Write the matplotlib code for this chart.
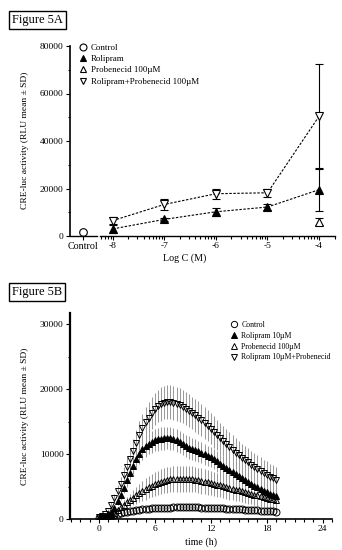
import matplotlib
matplotlib.use("Agg")
import numpy as np
import matplotlib.pyplot as plt
from matplotlib.lines import Line2D
from matplotlib.ticker import MultipleLocator, FixedLocator

plt.rcParams["font.family"] = ["Liberation Serif", "DejaVu Serif"]
plt.rcParams["font.size"] = 6.5

# --- Figure 5A data (dose response) ----------------------------------------
log_c = [-8, -7, -6, -5, -4]
rolipram_a = [3000, 7000, 10200, 12200, 19500]
rolipram_a_sd = [1600, 700, 1700, 1100, 9000]
combo_a = [6500, 13300, 17800, 18200, 50400]
combo_a_sd = [1300, 2200, 2200, 1800, 22000]
probenecid_a_x = [-4]
probenecid_a = [6000]
probenecid_a_sd = [1500]
control_a = [1700]
control_a_sd = [300]

# --- Figure 5B data (time course, reads every 20 min) ----------------------
time_h = [m / 60 for m in range(0, 1141, 20)]

combo_b = [300, 400, 700, 1200, 2100, 3200, 4300, 5400, 6700, 8000,
           9200, 10400, 11700, 13000, 14000, 14900, 15600, 16300, 16900, 17400,
           17700, 17900, 18000, 17950, 17850, 17700, 17500, 17300, 17000, 16650,
           16300, 15950, 15600, 15200, 14800, 14350, 13900, 13400, 12900, 12400,
           11950, 11500, 11050, 10600, 10200, 9800, 9400, 9050, 8700, 8350,
           8000, 7700, 7400, 7100, 6800, 6500, 6250, 6000]
combo_b_sd = [50, 80, 150, 300, 500, 700, 900, 1100, 1300, 1500,
              1700, 1900, 2000, 2100, 2200, 2300, 2400, 2450, 2500, 2500,
              2550, 2550, 2600, 2600, 2600, 2600, 2600, 2600, 2550, 2550,
              2500, 2500, 2500, 2450, 2450, 2400, 2400, 2400, 2350, 2350,
              2300, 2300, 2300, 2250, 2250, 2200, 2200, 2200, 2150, 2150,
              2100, 2100, 2100, 2050, 2050, 2000, 2000, 2000]

rolipram_b = [200, 250, 350, 550, 900, 1700, 2700, 3700, 4800, 6000,
              7100, 8200, 9200, 10000, 10700, 11200, 11600, 11900, 12100, 12250,
              12350, 12400, 12450, 12400, 12300, 12100, 11800, 11500, 11250, 11000,
              10800, 10600, 10400, 10200, 9950, 9700, 9500, 9200, 8850, 8500,
              8150, 7850, 7500, 7200, 6900, 6600, 6300, 6000, 5700, 5450,
              5150, 4900, 4650, 4350, 4100, 3900, 3700, 3500]
rolipram_b_sd = [50, 60, 80, 150, 250, 400, 550, 700, 850, 1000,
                 1150, 1300, 1400, 1500, 1550, 1600, 1650, 1700, 1700, 1750,
                 1750, 1750, 1750, 1750, 1750, 1750, 1700, 1700, 1700, 1700,
                 1650, 1650, 1650, 1600, 1600, 1600, 1550, 1550, 1550, 1500,
                 1500, 1500, 1450, 1450, 1450, 1400, 1400, 1400, 1350, 1350,
                 1300, 1300, 1300, 1250, 1250, 1200, 1200, 1200]

probenecid_b = [200, 250, 300, 450, 700, 1000, 1450, 1800, 2150, 2550,
                2900, 3250, 3650, 4000, 4300, 4650, 4900, 5150, 5400, 5600,
                5750, 5900, 6000, 6100, 6150, 6200, 6200, 6200, 6200, 6150,
                6100, 6050, 5950, 5850, 5750, 5650, 5550, 5450, 5300, 5200,
                5050, 4950, 4800, 4650, 4500, 4400, 4250, 4150, 4000, 3900,
                3750, 3650, 3500, 3400, 3300, 3150, 3050, 2900]
probenecid_b_sd = [50, 60, 80, 120, 200, 300, 420, 550, 700, 850,
                   1000, 1150, 1300, 1450, 1550, 1650, 1700, 1750, 1800, 1850,
                   1900, 1900, 1950, 1950, 2000, 2000, 2000, 2000, 2000, 2000,
                   2000, 1950, 1950, 1950, 1900, 1900, 1900, 1850, 1850, 1850,
                   1800, 1800, 1800, 1750, 1750, 1700, 1700, 1700, 1650, 1650,
                   1650, 1600, 1600, 1550, 1550, 1550, 1500, 1500]

control_b = [150, 200, 280, 400, 520, 650, 780, 900, 1020, 1130,
             1220, 1300, 1380, 1440, 1500, 1550, 1590, 1630, 1660, 1690,
             1710, 1730, 1750, 1760, 1770, 1780, 1780, 1790, 1790, 1790,
             1780, 1780, 1770, 1760, 1750, 1730, 1710, 1690, 1670, 1650,
             1630, 1600, 1580, 1550, 1530, 1500, 1470, 1440, 1410, 1380,
             1350, 1320, 1290, 1260, 1230, 1200, 1170, 1140]
control_b_sd = [40, 50, 60, 80, 100, 120, 140, 160, 180, 200,
                220, 240, 250, 260, 270, 280, 290, 300, 300, 300,
                300, 300, 300, 300, 300, 300, 300, 300, 300, 300,
                300, 300, 300, 300, 300, 300, 300, 300, 300, 300,
                290, 290, 290, 280, 280, 280, 270, 270, 270, 260,
                260, 260, 250, 250, 250, 250, 250, 250]

for arr in (combo_b, combo_b_sd, rolipram_b, rolipram_b_sd, probenecid_b,
            probenecid_b_sd, control_b, control_b_sd):
    assert len(arr) == len(time_h), len(arr)

W, H = 342, 550
fig = plt.figure(figsize=(W / 100, H / 100), dpi=100)


def px_axes(left, top, right, bottom):
    return fig.add_axes([left / W, 1 - bottom / H, (right - left) / W, (bottom - top) / H])


def style_ticks(ax):
    ax.tick_params(which="both", direction="out", width=0.8, labelsize=6.8, pad=1.5)
    ax.tick_params(which="major", length=3)
    ax.tick_params(which="minor", length=1.8)


ylabel = "CRE-luc activity (RLU mean \u00b1 SD)"
box = dict(boxstyle="square,pad=0.25", fc="white", ec="black", lw=1.0)

# --- Figure 5A ---------------------------------------------------------------
fig.text(12 / W, 1 - 20 / H, "Figure 5A", fontsize=9, va="center", ha="left", bbox=box)

ax_ctrl = px_axes(70, 46, 97, 236)
ax_a = px_axes(100, 46, 335, 236)

for ax in (ax_ctrl, ax_a):
    ax.set_ylim(0, 80000)
    for s in ("top", "right"):
        ax.spines[s].set_visible(False)
    ax.spines["bottom"].set_linewidth(1.0)
    ax.patch.set_alpha(0)
    style_ticks(ax)
ax_ctrl.spines["left"].set_linewidth(1.2)
ax_a.spines["left"].set_visible(False)
ax_a.tick_params(axis="y", left=False, labelleft=False)

ax_ctrl.set_xlim(0, 1)
ax_ctrl.set_xticks([0.48])
ax_ctrl.set_xticklabels(["Control"], fontsize=7.2)
ax_ctrl.yaxis.set_major_locator(MultipleLocator(20000))
ax_ctrl.yaxis.set_minor_locator(MultipleLocator(10000))
ax_ctrl.errorbar([0.48], control_a, yerr=control_a_sd, fmt="o", ms=5.5, mfc="white",
                 mec="black", mew=0.8, ecolor="black", elinewidth=0.8, capsize=2, clip_on=False)

ax_a.set_xlim(-8.25, -3.69)
ax_a.set_xticks(log_c)
ax_a.set_xticklabels([str(v) for v in log_c])
minor = [d + np.log10(k) for d in range(-9, -3) for k in range(2, 10)]
ax_a.xaxis.set_minor_locator(FixedLocator([m for m in minor if -8.25 <= m <= -3.69]))
ax_a.set_xlabel("Log C (M)", fontsize=7.2, labelpad=4)
ax_a.xaxis.set_label_coords((185 - 100) / 235, -0.09)

dash = (0, (2.2, 1.4))
ax_a.plot(log_c, combo_a, color="black", lw=0.8, ls=dash)
ax_a.plot(log_c, rolipram_a, color="black", lw=0.8, ls=dash)
ax_a.errorbar(log_c, combo_a, yerr=combo_a_sd, fmt="v", ms=6, mfc="white", mec="black",
              mew=0.8, ecolor="black", elinewidth=0.8, capsize=3, capthick=0.8, clip_on=False)
ax_a.errorbar(log_c, rolipram_a, yerr=rolipram_a_sd, fmt="^", ms=5.5, mfc="black", mec="black",
              mew=0.8, ecolor="black", elinewidth=0.8, capsize=3, capthick=0.8, clip_on=False)
ax_a.errorbar(probenecid_a_x, probenecid_a, yerr=probenecid_a_sd, fmt="^", ms=6, mfc="white",
              mec="black", mew=0.8, ecolor="black", elinewidth=0.8, capsize=3, capthick=0.8)

fig.text(25 / W, 1 - 140 / H, ylabel, rotation=90, va="center", ha="center", fontsize=6.8)

handles_a = [
    Line2D([], [], ls="none", marker="o", ms=5, mfc="white", mec="black", mew=0.8),
    Line2D([], [], ls="none", marker="^", ms=5, mfc="black", mec="black", mew=0.8),
    Line2D([], [], ls="none", marker="^", ms=5, mfc="white", mec="black", mew=0.8),
    Line2D([], [], ls="none", marker="v", ms=5, mfc="white", mec="black", mew=0.8),
]
labels_a = ["Control", "Rolipram", "Probenecid 100\u00b5M", "Rolipram+Probenecid 100\u00b5M"]
fig.legend(handles_a, labels_a, loc="upper left", bbox_to_anchor=(76 / W, 1 - 40 / H),
           frameon=False, fontsize=6.4, handlelength=0.8, handletextpad=0.5,
           labelspacing=0.35, borderaxespad=0)

# --- Figure 5B ---------------------------------------------------------------
fig.text(12 / W, 1 - 292 / H, "Figure 5B", fontsize=9, va="center", ha="left", bbox=box)

ax_b = px_axes(70, 313, 332, 519)
ax_b.set_xlim(-3.1, 25)
ax_b.set_ylim(0, 31700)
for s in ("top", "right"):
    ax_b.spines[s].set_visible(False)
ax_b.spines["left"].set_linewidth(1.6)
ax_b.spines["bottom"].set_linewidth(1.2)
style_ticks(ax_b)
ax_b.xaxis.set_major_locator(FixedLocator([0, 6, 12, 18, 24]))
ax_b.xaxis.set_minor_locator(FixedLocator(list(range(-3, 26))))
ax_b.yaxis.set_major_locator(MultipleLocator(10000))
ax_b.yaxis.set_minor_locator(MultipleLocator(5000))
ax_b.set_xlabel("time (h)", fontsize=7.2, labelpad=3)

series_b = [
    (control_b, control_b_sd, "o", "none"),
    (probenecid_b, probenecid_b_sd, "^", "none"),
    (rolipram_b, rolipram_b_sd, "^", "black"),
    (combo_b, combo_b_sd, "v", "none"),
]
for vals, sd, mk, fc in series_b:
    ax_b.errorbar(time_h, vals, yerr=sd, fmt="none", ecolor="#9a9a9a", elinewidth=0.75,
                  capsize=0, zorder=1)
for vals, sd, mk, fc in series_b:
    ax_b.plot(time_h, vals, ls="none", marker=mk, ms=5, mfc=fc, mec="black", mew=0.7,
              zorder=3)

fig.text(25 / W, 1 - 416 / H, ylabel, rotation=90, va="center", ha="center", fontsize=6.8)

handles_b = [
    Line2D([], [], ls="none", marker="o", ms=4.5, mfc="white", mec="black", mew=0.7),
    Line2D([], [], ls="none", marker="^", ms=4.5, mfc="black", mec="black", mew=0.7),
    Line2D([], [], ls="none", marker="^", ms=4.5, mfc="white", mec="black", mew=0.7),
    Line2D([], [], ls="none", marker="v", ms=4.5, mfc="white", mec="black", mew=0.7),
]
labels_b = ["Control", "Rolipram 10\u00b5M", "Probenecid 100\u00b5M", "Rolipram 10\u00b5M+Probenecid"]
fig.legend(handles_b, labels_b, loc="upper left", bbox_to_anchor=(228 / W, 1 - 318 / H),
           frameon=False, fontsize=5.6, handlelength=0.8, handletextpad=0.5,
           labelspacing=0.35, borderaxespad=0)

fig.savefig("out.png", dpi=100)
